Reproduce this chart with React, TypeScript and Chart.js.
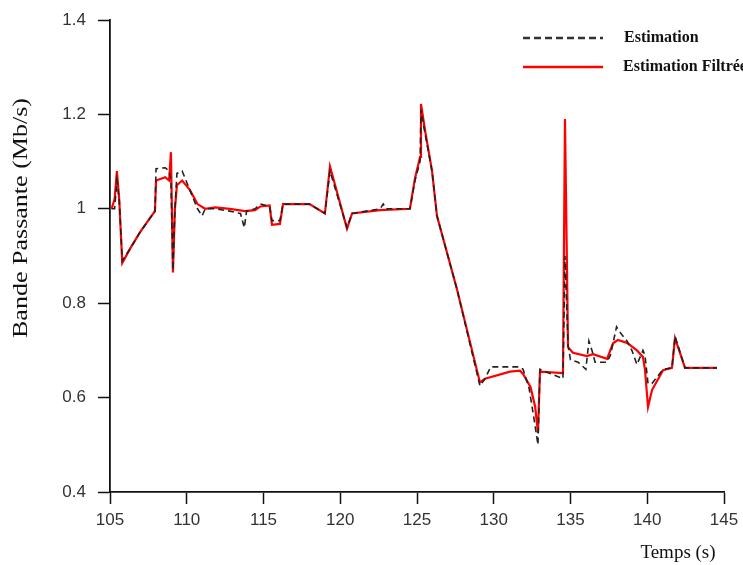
import React, { useEffect, useRef } from "react";
import { Chart, registerables } from "chart.js";

Chart.register(...registerables);

// ---- Data ----
const estimationTime = [105.1,105.3,105.45,105.6,105.8,106.3,106.95,107.6,107.93,108.0,108.6,108.85,108.97,109.1,109.23,109.36,109.7,110.2,110.7,111.0,111.2,111.85,112.8,113.5,113.75,113.9,114.45,114.8,115.4,115.55,116.07,116.27,118.0,119.0,119.33,120.44,120.77,122.6,122.8,123.0,124.54,124.87,125.2,125.26,125.52,125.98,126.3,127.6,129.1,129.43,129.8,131.71,131.91,132.3,132.6,132.88,133.01,134.51,134.64,134.84,135.0,135.5,136.0,136.2,136.4,136.6,137.38,137.6,137.8,138.0,138.3,138.68,139.0,139.33,139.72,139.85,140.05,140.31,141.03,141.61,141.81,142.46,144.54];
const estimationValues = [1.0,1.0,1.06,1.02,0.89,0.915,0.95,0.98,0.995,1.085,1.087,1.08,1.06,0.87,1.0,1.075,1.08,1.04,1.0,0.985,1.0,1.0,0.995,0.99,0.96,0.995,1.0,1.01,1.005,0.975,0.975,1.01,1.01,0.99,1.08,0.96,0.99,1.0,1.01,1.0,1.0,1.06,1.1,1.21,1.16,1.08,0.985,0.83,0.625,0.64,0.665,0.665,0.66,0.62,0.56,0.5,0.66,0.64,0.9,0.71,0.68,0.675,0.66,0.72,0.7,0.675,0.675,0.69,0.72,0.75,0.735,0.72,0.7,0.67,0.7,0.69,0.63,0.63,0.66,0.663,0.73,0.663,0.663];

const filteredTime = [105.1,105.3,105.45,105.6,105.8,106.3,106.95,107.6,107.93,108.0,108.6,108.85,108.97,109.1,109.23,109.36,109.7,110.2,110.7,111.2,111.85,112.8,113.8,114.45,114.8,115.4,115.55,116.07,116.27,118.0,119.0,119.33,120.44,120.77,122.6,124.54,124.87,125.2,125.26,125.52,125.98,126.3,127.6,129.1,129.43,131.06,131.71,131.91,132.4,132.7,132.88,133.01,134.51,134.64,134.84,135.16,136.07,136.47,137.38,137.77,138.09,138.68,139.33,139.72,139.85,140.05,140.31,141.03,141.61,141.81,142.46,144.54];
const filteredValues = [1.0,1.02,1.08,1.02,0.885,0.915,0.95,0.98,0.995,1.06,1.067,1.06,1.12,0.865,1.0,1.05,1.06,1.04,1.01,1.0,1.003,1.0,0.995,0.997,1.005,1.007,0.966,0.968,1.01,1.01,0.99,1.09,0.958,0.99,0.997,1.0,1.065,1.11,1.222,1.167,1.08,0.985,0.83,0.632,0.64,0.655,0.657,0.65,0.622,0.58,0.525,0.655,0.652,1.19,0.707,0.695,0.688,0.692,0.682,0.715,0.722,0.716,0.7,0.686,0.66,0.58,0.616,0.658,0.663,0.726,0.663,0.663];

const xTicks = [105, 110, 115, 120, 125, 130, 135, 140, 145];
const yTicks = [0.4, 0.6, 0.8, 1.0, 1.2, 1.4];
const yTickLabels = ["0.4", "0.6", "0.8", "1", "1.2", "1.4"];

const seriesNames = ["Estimation", "Estimation Filtrée"];
const xTitle = "Temps (s)";
const yTitle = "Bande Passante (Mb/s)";

const W = 743;
const H = 565;

const annotations = {
  id: "annotations",
  afterDraw(chart: any) {
    const ctx = chart.ctx as CanvasRenderingContext2D;
    ctx.save();
    // legend
    ctx.lineWidth = 2.5;
    ctx.strokeStyle = "#333";
    ctx.setLineDash([7, 4]);
    ctx.beginPath();
    ctx.moveTo(523, 38);
    ctx.lineTo(603, 38);
    ctx.stroke();
    ctx.setLineDash([]);
    ctx.strokeStyle = "#ff0000";
    ctx.beginPath();
    ctx.moveTo(523, 67);
    ctx.lineTo(603, 67);
    ctx.stroke();
    ctx.fillStyle = "#111";
    ctx.font = 'bold 16px "Liberation Serif"';
    ctx.textAlign = "left";
    ctx.textBaseline = "middle";
    ctx.fillText(seriesNames[0], 624, 38);
    ctx.fillText(seriesNames[1], 623, 67);

    // x title
    ctx.font = '19px "Liberation Serif"';
    ctx.textAlign = "center";
    ctx.fillText(xTitle, 678, 553);

    // y title
    ctx.translate(22, 218);
    ctx.rotate(-Math.PI / 2);
    ctx.font = '20px "Liberation Serif"';
    const w = ctx.measureText(yTitle).width;
    ctx.scale(240 / w, 1);
    ctx.fillText(yTitle, 0, 0);
    ctx.restore();
  },
};

export default function App() {
  const ref = useRef<HTMLCanvasElement | null>(null);

  useEffect(() => {
    if (!ref.current) return;
    const chart = new Chart(ref.current, {
      type: "line",
      data: {
        datasets: [
          {
            label: seriesNames[0],
            data: estimationTime.map((t, i) => ({ x: t, y: estimationValues[i] })),
            borderColor: "#222",
            borderWidth: 1.6,
            borderDash: [6, 4],
            pointRadius: 0,
            tension: 0,
            fill: false,
          },
          {
            label: seriesNames[1],
            data: filteredTime.map((t, i) => ({ x: t, y: filteredValues[i] })),
            borderColor: "#ff0000",
            borderWidth: 2.2,
            pointRadius: 0,
            tension: 0,
            fill: false,
          },
        ],
      },
      options: {
        animation: false,
        responsive: false,
        layout: { padding: { left: 0, top: 20, right: 19, bottom: 0 } },
        plugins: { legend: { display: false }, tooltip: { enabled: false } },
        scales: {
          x: {
            type: "linear",
            min: 105,
            max: 145,
            afterBuildTicks: (s: any) => {
              s.ticks = xTicks.map((v) => ({ value: v }));
            },
            afterFit: (s: any) => {
              s.height = H - 492;
              s.paddingLeft = 0;
              s.paddingRight = 0;
            },
            grid: {
              drawOnChartArea: false,
              drawTicks: true,
              tickLength: 12,
              tickColor: "#111",
              tickWidth: 1.5,
            },
            border: { display: true, color: "#111", width: 1.8 },
            ticks: {
              padding: 6,
              color: "#333",
              font: { family: '"Liberation Sans"', size: 17 },
              maxRotation: 0,
              callback: (v: any) => String(v),
            },
          },
          y: {
            type: "linear",
            min: 0.4,
            max: 1.4,
            afterBuildTicks: (s: any) => {
              s.ticks = yTicks.map((v) => ({ value: v }));
            },
            afterFit: (s: any) => {
              s.width = 110;
              s.paddingTop = 0;
              s.paddingBottom = 0;
            },
            grid: {
              drawOnChartArea: false,
              drawTicks: true,
              tickLength: 12,
              tickColor: "#111",
              tickWidth: 1.5,
            },
            border: { display: true, color: "#111", width: 1.8 },
            ticks: {
              padding: 12,
              color: "#333",
              font: { family: '"Liberation Sans"', size: 17 },
              callback: (v: any) => {
                const idx = yTicks.findIndex((t) => Math.abs(t - v) < 1e-6);
                return idx >= 0 ? yTickLabels[idx] : "";
              },
            },
          },
        },
      },
      plugins: [annotations],
    });
    return () => chart.destroy();
  }, []);

  return (
    <div style={{ position: "absolute", left: 0, top: 0, width: W, height: H, background: "#fff" }}>
      <canvas ref={ref} width={W} height={H} style={{ display: "block" }} />
    </div>
  );
}
